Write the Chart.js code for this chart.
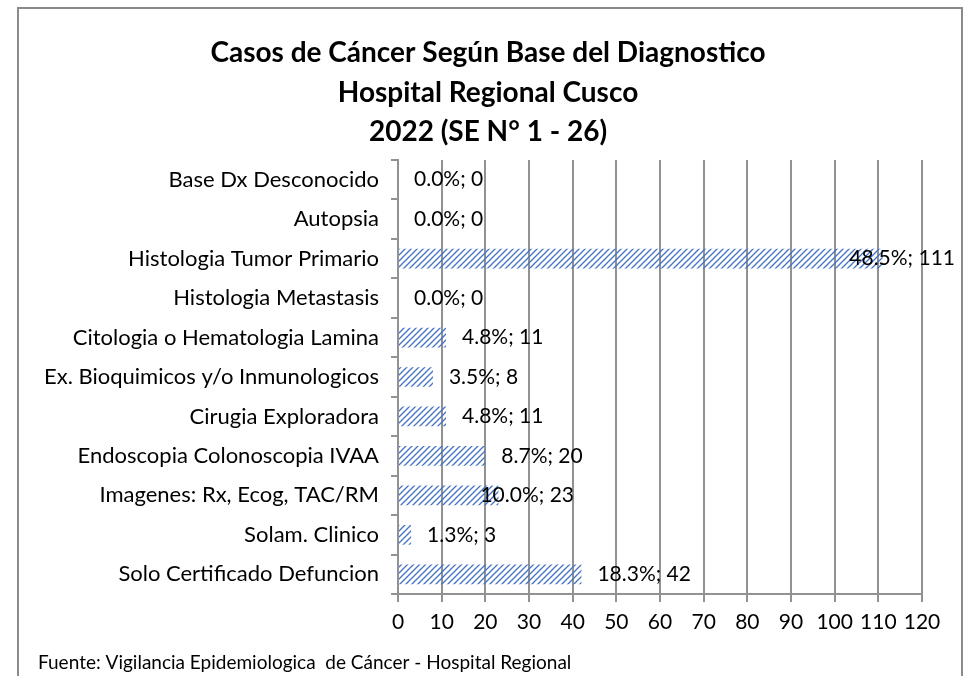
<!DOCTYPE html>
<html>
<head>
<meta charset="utf-8">
<script src="https://cdn.jsdelivr.net/npm/chart.js@4"></script>
<style>
  html, body { margin: 0; padding: 0; background: #fff; }
  #chart { display: block; }
</style>
</head>
<body>
<canvas id="chart" width="966" height="676"></canvas>
<script>
// Data
const categories = [
    'Base Dx Desconocido',
    'Autopsia',
    'Histologia Tumor Primario',
    'Histologia Metastasis',
    'Citologia o Hematologia Lamina',
    'Ex. Bioquimicos y/o Inmunologicos',
    'Cirugia Exploradora',
    'Endoscopia Colonoscopia IVAA',
    'Imagenes: Rx, Ecog, TAC/RM',
    'Solam. Clinico',
    'Solo Certificado Defuncion'
];
const casos = [0, 0, 111, 0, 11, 8, 11, 20, 23, 3, 42];
const porcentajes = ['0.0%', '0.0%', '48.5%', '0.0%', '4.8%', '3.5%', '4.8%', '8.7%', '10.0%', '1.3%', '18.3%'];
const xMin = 0, xMax = 120, xStep = 10;

const titleLines = [
    'Casos de Cáncer Según Base del Diagnostico',
    'Hospital Regional Cusco',
    '2022 (SE N° 1 - 26)'
];
const footerText = 'Fuente: Vigilancia Epidemiologica  de Cáncer - Hospital Regional';

const FONT = 'Lato, "Liberation Sans", sans-serif';
const GRID = '#929292';

/**
 * Diagonal hatch pattern like Excel's "wide upward diagonal"
 */
function makeHatch() {
    const size = 6;
    const c = document.createElement('canvas');
    c.width = size;
    c.height = size;
    const g = c.getContext('2d');
    g.strokeStyle = '#4472C4';
    g.lineWidth = 1.3;
    g.beginPath();
    g.moveTo(-1, size + 1);
    g.lineTo(size + 1, -1);
    g.moveTo(-1, 1);
    g.lineTo(1, -1);
    g.moveTo(size - 1, size + 1);
    g.lineTo(size + 1, size - 1);
    g.stroke();
    return document.getElementById('chart').getContext('2d').createPattern(c, 'repeat');
}

// frame, title and footer
const decorPlugin = {
    id: 'decor',
    beforeDraw(chart) {
        const ctx = chart.ctx;
        ctx.save();
        ctx.fillStyle = '#fff';
        ctx.fillRect(0, 0, chart.width, chart.height);
        ctx.strokeStyle = '#8a8a8a';
        ctx.lineWidth = 2;
        ctx.beginPath();
        ctx.moveTo(18, 700);
        ctx.lineTo(18, 8);
        ctx.lineTo(962, 8);
        ctx.lineTo(962, 700);
        ctx.stroke();
        ctx.restore();
    },
    afterDraw(chart) {
        const ctx = chart.ctx;
        ctx.save();
        ctx.fillStyle = '#000';
        ctx.textAlign = 'center';
        ctx.textBaseline = 'middle';
        ctx.font = 'bold 28px ' + FONT;
        const ys = [53, 93, 132];
        titleLines.forEach((t, i) => ctx.fillText(t, 488, ys[i]));
        ctx.textAlign = 'left';
        ctx.font = '19px ' + FONT;
        ctx.fillText(footerText, 38, 663);
        ctx.restore();
    }
};

// "pct; value" labels at the end of each bar (one label was moved by hand in the original)
const labelNudge = { 8: -34 };
const labelPlugin = {
    id: 'barLabels',
    afterDatasetsDraw(chart) {
        const ctx = chart.ctx;
        const meta = chart.getDatasetMeta(0);
        ctx.save();
        ctx.font = '21px ' + FONT;
        ctx.fillStyle = '#000';
        ctx.textBaseline = 'middle';
        ctx.textAlign = 'left';
        meta.data.forEach((bar, i) => {
            const txt = porcentajes[i] + '; ' + casos[i];
            const w = ctx.measureText(txt).width;
            let x = bar.x + 16 + (labelNudge[i] || 0);
            if (x + w > 955) x = 955 - w;
            ctx.fillText(txt, x, bar.y);
        });
        ctx.restore();
    }
};

new Chart(document.getElementById('chart'), {
    type: 'bar',
    data: {
        labels: categories,
        datasets: [{
            data: casos,
            backgroundColor: makeHatch(),
            borderWidth: 0,
            barPercentage: 0.5,
            categoryPercentage: 1
        }]
    },
    options: {
        indexAxis: 'y',
        responsive: false,
        animation: false,
        devicePixelRatio: 1,
        layout: {
            padding: { left: 0, right: 44, top: 160, bottom: 0 }
        },
        plugins: {
            legend: { display: false },
            title: { display: false },
            tooltip: { enabled: false }
        },
        scales: {
            x: {
                min: xMin,
                max: xMax,
                ticks: {
                    stepSize: xStep,
                    color: '#000',
                    font: { family: FONT, size: 21 },
                    padding: 8
                },
                grid: {
                    color: GRID,
                    lineWidth: 2,
                    tickLength: 8
                },
                border: { color: GRID, width: 2 },
                afterFit(scale) { scale.height = 82; }
            },
            y: {
                ticks: {
                    color: '#000',
                    font: { family: FONT, size: 22 },
                    padding: 12
                },
                grid: {
                    drawOnChartArea: false,
                    color: GRID,
                    lineWidth: 2,
                    tickLength: 7,
                    offset: true
                },
                border: { color: GRID, width: 2 },
                afterFit(scale) { scale.width = 398; }
            }
        }
    },
    plugins: [decorPlugin, labelPlugin]
});
</script>
</body>
</html>
